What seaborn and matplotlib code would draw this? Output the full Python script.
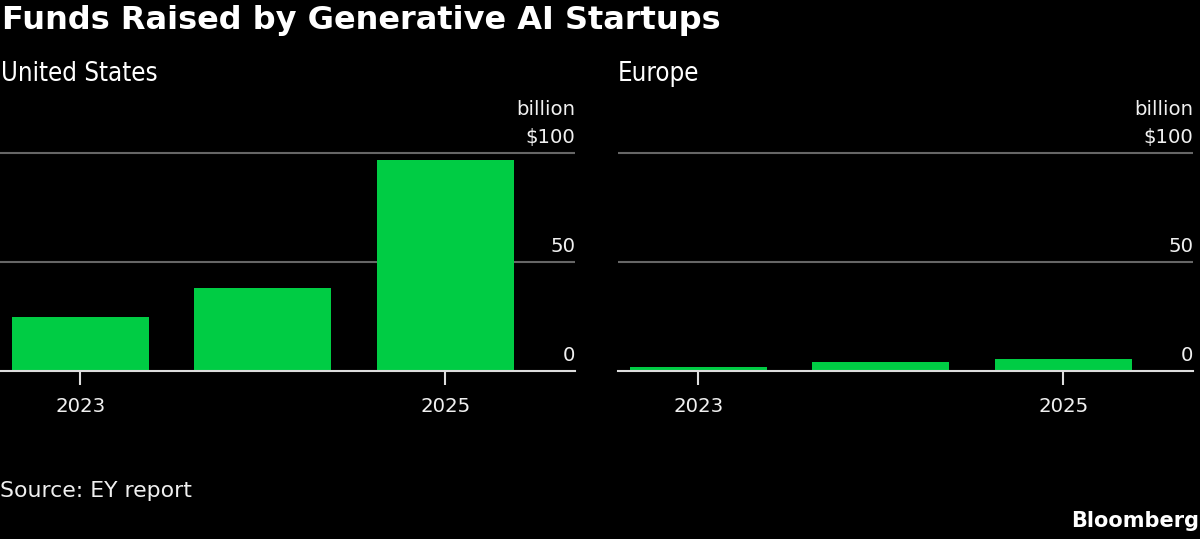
import pandas as pd
import seaborn as sns
import matplotlib.pyplot as plt

# values, $ billion
years = ['2023', '2024', '2025']
us_funds = [24.9, 38.2, 96.9]
europe_funds = [1.7, 4.0, 5.6]
ytick_values = [0, 50, 100]
ytick_labels = ['0', '50', 'billion\n$100']
xtick_years = ['2023', '2025']

title = 'Funds Raised by Generative AI Startups'
panels = ['United States', 'Europe']
source = 'Source: EY report'

bg = '#000000'
green = '#00cc44'
grid_c = '#666666'
text_c = '#f0f0f0'

sns.set_theme(style='dark')
plt.rcParams.update({
    'figure.facecolor': bg,
    'axes.facecolor': bg,
    'savefig.facecolor': bg,
    'text.color': text_c,
    'xtick.color': text_c,
    'ytick.color': text_c,
})
plt.rcParams['font.family'] = ['DejaVu Sans']
narrow = dict(family=['DejaVu Sans'], fontstretch='condensed')

df = pd.concat([
    pd.DataFrame({'year': years, 'funds': us_funds, 'region': panels[0]}),
    pd.DataFrame({'year': years, 'funds': europe_funds, 'region': panels[1]}),
])

fig = plt.figure(figsize=(12, 5.39), dpi=100)
W, H = 1200, 539
ax_us = fig.add_axes([0 / W, 1 - 371 / H, 575 / W, (371 - 148.6) / H])
ax_eu = fig.add_axes([618 / W, 1 - 371 / H, 575 / W, (371 - 148.6) / H])

for ax, region in zip([ax_us, ax_eu], panels):
    sub = df[df['region'] == region]
    sns.barplot(data=sub, x='year', y='funds', order=years, color=green,
                saturation=1, width=0.75, ax=ax, edgecolor='none')
    ax.set_xlim(-0.44, 2.71)
    ax.set_ylim(0, 102)
    ax.set_xlabel('')
    ax.set_ylabel('')
    for s in ['top', 'right', 'left']:
        ax.spines[s].set_visible(False)
    ax.spines['bottom'].set_color('#dddddd')
    ax.spines['bottom'].set_linewidth(1.5)
    ax.spines['bottom'].set_zorder(5)
    for v in ytick_values[1:]:
        ax.axhline(v, color=grid_c, lw=1.5, zorder=0)
    ax.set_yticks([])
    ax.grid(False)
    for v, lbl in zip(ytick_values, ytick_labels):
        ax.annotate(lbl, xy=(1, v), xycoords=ax.get_yaxis_transform(),
                    xytext=(0, 4), textcoords='offset points',
                    ha='right', va='bottom', fontsize=14.2, color=text_c,
                    linespacing=1.6, annotation_clip=False)
    ax.set_xticks([years.index(y) for y in xtick_years])
    ax.set_xticklabels(xtick_years, fontsize=14.2)
    ax.tick_params(axis='x', bottom=True, length=10, width=1.5,
                   color='#dddddd', pad=9)

fig.text(2 / W, 1 - 21 / H, title, fontsize=23, fontweight='bold',
         color='white', va='center', ha='left')
fig.text(1 / W, 1 - 74 / H, panels[0], fontsize=18.5, color='white',
         va='center', ha='left', **narrow)
fig.text(618 / W, 1 - 74 / H, panels[1], fontsize=18.5, color='white',
         va='center', ha='left', **narrow)
fig.text(0, 1 - 491 / H, source, fontsize=15.8, color=text_c,
         va='center', ha='left')
fig.text(1199 / W, 1 - 521 / H, 'Bloomberg', fontsize=15, fontweight='bold',
         color='white', va='center', ha='right')

fig.savefig('out.png', dpi=100)
